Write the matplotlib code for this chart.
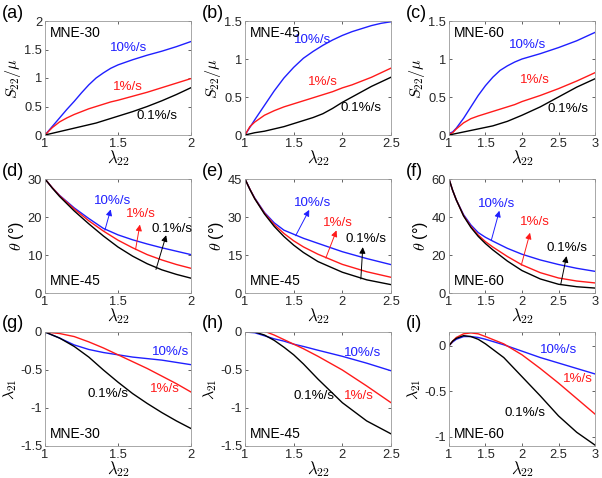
"""3x3 panel figure: S22/mu, theta and lambda21 vs lambda22 for three MNE samples."""
import matplotlib
matplotlib.use("Agg")
import matplotlib.pyplot as plt
from matplotlib.ticker import FormatStrFormatter

plt.rcParams["font.family"] = ["Liberation Sans", "DejaVu Sans"]
plt.rcParams["mathtext.fontset"] = "cm"
plt.rcParams["axes.unicode_minus"] = False

BLUE, RED, BLACK = "#1f1fff", "#ff1a1a", "black"
RATES = ["10%/s", "1%/s", "0.1%/s"]

# ---- row 1: S22/mu ----
xa = [1, 1.05, 1.1, 1.15, 1.2, 1.25, 1.3, 1.35, 1.4, 1.45, 1.5, 1.6, 1.7, 1.8, 1.9, 2.0]
sa_10 = [0, 0.15, 0.30, 0.45, 0.59, 0.74, 0.88, 1.00, 1.09, 1.17, 1.23, 1.32, 1.40, 1.47, 1.55, 1.64]
sa_1 = [0, 0.13, 0.23, 0.30, 0.36, 0.41, 0.46, 0.50, 0.54, 0.58, 0.61, 0.68, 0.75, 0.83, 0.91, 0.99]
sa_01 = [0, 0.03, 0.06, 0.09, 0.12, 0.15, 0.18, 0.21, 0.25, 0.29, 0.33, 0.41, 0.50, 0.60, 0.71, 0.83]

xb = [1, 1.05, 1.1, 1.2, 1.3, 1.4, 1.5, 1.6, 1.7, 1.8, 1.9, 2.0, 2.1, 2.2, 2.3, 2.4, 2.5]
sb_10 = [0, 0.10, 0.20, 0.39, 0.58, 0.75, 0.89, 1.01, 1.10, 1.18, 1.25, 1.31, 1.36, 1.40, 1.44, 1.47, 1.49]
sb_1 = [0, 0.11, 0.17, 0.26, 0.32, 0.37, 0.41, 0.45, 0.49, 0.53, 0.57, 0.62, 0.66, 0.71, 0.76, 0.82, 0.88]
sb_01 = [0, 0.015, 0.03, 0.05, 0.08, 0.11, 0.15, 0.19, 0.23, 0.28, 0.35, 0.43, 0.50, 0.57, 0.64, 0.70, 0.76]

xc = [1, 1.05, 1.1, 1.2, 1.3, 1.4, 1.5, 1.6, 1.7, 1.8, 1.9, 2.0, 2.25, 2.5, 2.75, 3.0]
sc_10 = [0.02, 0.04, 0.09, 0.22, 0.37, 0.52, 0.65, 0.76, 0.85, 0.91, 0.96, 1.00, 1.07, 1.15, 1.24, 1.35]
sc_1 = [0.01, 0.03, 0.08, 0.16, 0.215, 0.25, 0.28, 0.31, 0.34, 0.37, 0.40, 0.44, 0.52, 0.61, 0.71, 0.82]
sc_01 = [0, 0.01, 0.02, 0.04, 0.06, 0.08, 0.10, 0.12, 0.15, 0.18, 0.22, 0.26, 0.37, 0.50, 0.63, 0.74]

# ---- row 2: theta (deg) ----
xd = [1, 1.05, 1.1, 1.2, 1.3, 1.4, 1.5, 1.6, 1.7, 1.8, 1.9, 2.0]
td_10 = [30, 27.7, 25.7, 22.4, 19.6, 17.0, 15.3, 14.0, 12.9, 11.9, 11.0, 10.1]
td_1 = [30, 27.7, 25.6, 22.1, 19.0, 16.3, 13.9, 11.9, 10.1, 8.7, 7.5, 6.5]
td_01 = [30, 27.6, 25.4, 21.6, 18.2, 15.0, 12.1, 9.7, 7.7, 6.1, 4.9, 3.9]

xe = [1, 1.05, 1.1, 1.2, 1.3, 1.4, 1.5, 1.6, 1.75, 2.0, 2.25, 2.5]
te_10 = [45, 41.0, 37.5, 31.8, 27.7, 24.8, 23.2, 21.6, 19.6, 16.3, 13.6, 11.2]
te_1 = [45, 41.0, 37.3, 31.5, 27.0, 23.5, 20.6, 18.2, 15.3, 11.3, 8.4, 6.2]
te_01 = [45, 40.9, 37.2, 31.2, 26.3, 22.3, 18.9, 16.0, 12.4, 8.2, 5.2, 3.3]

xf = [1, 1.05, 1.1, 1.2, 1.3, 1.4, 1.5, 1.6, 1.8, 2.0, 2.25, 2.5, 2.75, 3.0]
tf_10 = [60, 54.0, 49, 41.2, 35.8, 31.8, 29.3, 27.3, 23.5, 20.4, 17.4, 15.0, 13.0, 11.4]
tf_1 = [60, 54.0, 49, 40.7, 35.0, 30.5, 27.0, 24.2, 19.2, 14.8, 10.7, 7.9, 6.3, 5.3]
tf_01 = [60, 54.0, 49, 40.5, 34.5, 29.8, 26.0, 22.7, 16.8, 11.8, 7.4, 4.6, 3.3, 2.6]

# ---- row 3: lambda21 ----
xg = [1, 1.1, 1.2, 1.3, 1.4, 1.5, 1.6, 1.7, 1.8, 1.9, 2.0]
lg_10 = [0, -0.08, -0.17, -0.23, -0.27, -0.30, -0.33, -0.35, -0.37, -0.40, -0.43]
lg_1 = [0, -0.02, -0.06, -0.13, -0.21, -0.30, -0.39, -0.48, -0.58, -0.68, -0.79]
lg_01 = [0, -0.08, -0.19, -0.33, -0.50, -0.66, -0.81, -0.94, -1.06, -1.17, -1.27]

xh = [1, 1.1, 1.2, 1.3, 1.4, 1.5, 1.6, 1.75, 2.0, 2.25, 2.5]
lh_10 = [0, -0.01, -0.05, -0.09, -0.12, -0.16, -0.19, -0.24, -0.32, -0.41, -0.51]
lh_1 = [0, 0.02, 0.01, -0.04, -0.10, -0.16, -0.22, -0.32, -0.50, -0.71, -0.93]
lh_01 = [0, 0.0, -0.04, -0.11, -0.20, -0.30, -0.42, -0.62, -0.93, -1.17, -1.34]

xi = [1, 1.05, 1.1, 1.2, 1.3, 1.4, 1.5, 1.75, 2.0, 2.25, 2.5, 2.75, 3.0]
li_10 = [0, 0.04, 0.07, 0.10, 0.10, 0.09, 0.07, 0.01, -0.06, -0.13, -0.19, -0.25, -0.31]
li_1 = [0, 0.05, 0.09, 0.13, 0.14, 0.13, 0.10, 0.02, -0.10, -0.25, -0.41, -0.58, -0.75]
li_01 = [0, 0.05, 0.08, 0.11, 0.10, 0.07, 0.02, -0.13, -0.34, -0.55, -0.77, -0.95, -1.09]

# panel spec: letter, x, (10, 1, 0.1), xlim, xticks, ylim, yticks, ylabel, sample, where,
# label positions (10, 1, 0.1)
panels = [
    ("(a)", xa, (sa_10, sa_1, sa_01), (1, 2), [1, 1.5, 2], (0, 2), [0, 0.5, 1, 1.5, 2],
     r"$S_{22}/\mu$", "MNE-30", "top", [(1.57, 1.52), (1.57, 0.84), (1.77, 0.33)]),
    ("(b)", xb, (sb_10, sb_1, sb_01), (1, 2.5), [1, 1.5, 2, 2.5], (0, 1.5), [0, 0.5, 1, 1.5],
     r"$S_{22}/\mu$", "MNE-45", "top", [(1.69, 1.25), (1.80, 0.70), (2.19, 0.35)]),
    ("(c)", xc, (sc_10, sc_1, sc_01), (1, 3), [1, 1.5, 2, 2.5, 3], (0, 1.5), [0, 0.5, 1, 1.5],
     r"$S_{22}/\mu$", "MNE-60", "top", [(2.08, 1.18), (2.18, 0.72), (2.63, 0.34)]),
    ("(d)", xd, (td_10, td_1, td_01), (1, 2), [1, 1.5, 2], (0, 30), [0, 10, 20, 30],
     r"$\theta$ (°)", "MNE-45", "bottom", [(1.46, 24.3), (1.66, 20.8), (1.87, 16.8)]),
    ("(e)", xe, (te_10, te_1, te_01), (1, 2.5), [1, 1.5, 2, 2.5], (0, 45), [0, 15, 30, 45],
     r"$\theta$ (°)", "MNE-45", "bottom", [(1.69, 35.4), (1.95, 27.5), (2.24, 21.3)]),
    ("(f)", xf, (tf_10, tf_1, tf_01), (1, 3), [1, 1.5, 2, 2.5, 3], (0, 60), [0, 20, 40, 60],
     r"$\theta$ (°)", "MNE-60", "bottom", [(1.65, 46.8), (2.18, 37.5), (2.61, 23.9)]),
    ("(g)", xg, (lg_10, lg_1, lg_01), (1, 2), [1, 1.5, 2], (-1.5, 0), [-1.5, -1, -0.5, 0],
     r"$\lambda_{21}$", "MNE-30", "bottom", [(1.86, -0.26), (1.82, -0.75), (1.43, -0.82)]),
    ("(h)", xh, (lh_10, lh_1, lh_01), (1, 2.5), [1, 1.5, 2, 2.5], (-1.5, 0), [-1.5, -1, -0.5, 0],
     r"$\lambda_{21}$", "MNE-45", "bottom", [(2.21, -0.27), (2.17, -0.84), (1.71, -0.84)]),
    ("(i)", xi, (li_10, li_1, li_01), (1, 3), [1, 1.5, 2, 2.5, 3], (-1.1, 0.15), [-1, -0.5, 0],
     r"$\lambda_{21}$", "MNE-60", "bottom", [(2.50, -0.05), (2.77, -0.36), (2.04, -0.74)]),
]

# arrows in the theta panels: (start, end) for 10, 1, 0.1 %/s
arrows = {
    "(d)": [((1.41, 16.5), (1.45, 22.0)), ((1.62, 11.4), (1.65, 18.0)), ((1.76, 6.2), (1.83, 15.2))],
    "(e)": [((1.52, 22.6), (1.66, 32.8)), ((1.83, 13.8), (1.94, 24.7)), ((2.19, 5.5), (2.21, 18.1))],
    "(f)": [((1.58, 27.8), (1.69, 43.3)), ((1.99, 14.6), (2.11, 31.7)), ((2.53, 4.4), (2.61, 19.4))],
}

W, H = 602, 478
lefts = [45, 245, 449]
tops = [21, 179, 332]
aw, ah = 146, 114

fig = plt.figure(figsize=(W / 100, H / 100), dpi=100)
colors = [BLUE, RED, BLACK]

for k, (letter, x, ys, xlim, xt, ylim, yt, ylab, sample, where, lpos) in enumerate(panels):
    r, c = divmod(k, 3)
    ax = fig.add_axes([lefts[c] / W, 1 - (tops[r] + ah) / H, aw / W, ah / H])
    for y, col in zip(ys, colors):
        ax.plot(x, y, color=col, lw=1.0)
    for (tx, ty), col, lab in zip(lpos, colors, RATES):
        ax.text(tx, ty, lab, color=col, fontsize=9.6, ha="center", va="center")
    if letter in arrows:
        for (s, e), col in zip(arrows[letter], colors):
            ax.annotate("", xy=e, xytext=s,
                        arrowprops=dict(arrowstyle="-|>", color=col, lw=0.7,
                                        mutation_scale=9, shrinkA=0, shrinkB=0))
    if where == "top":
        ax.text(0.03, 0.96, sample, transform=ax.transAxes, fontsize=10, va="top", ha="left")
    else:
        ax.text(0.03, 0.04, sample, transform=ax.transAxes, fontsize=10, va="bottom", ha="left")
    ax.set_xlim(*xlim)
    ax.set_ylim(*ylim)
    ax.set_xticks(xt)
    ax.set_yticks(yt)
    ax.xaxis.set_major_formatter(FormatStrFormatter("%g"))
    ax.yaxis.set_major_formatter(FormatStrFormatter("%g"))
    ax.tick_params(direction="in", length=2.5, width=0.5, labelsize=9.3,
                   colors="#262626", top=True, right=True, pad=2)
    for sp in ax.spines.values():
        sp.set_color("#9a9a9a")
        sp.set_linewidth(0.6)
    ax.set_xlabel(r"$\lambda_{22}$", fontsize=12, labelpad=-1)
    ax.set_ylabel(ylab, fontsize=11.5, labelpad=1)
    fig.text((lefts[c] - 45 + 2) / W, 1 - (tops[r] - 8) / H, letter, fontsize=13, va="center",
             ha="left")

fig.savefig("out.png", dpi=100)
